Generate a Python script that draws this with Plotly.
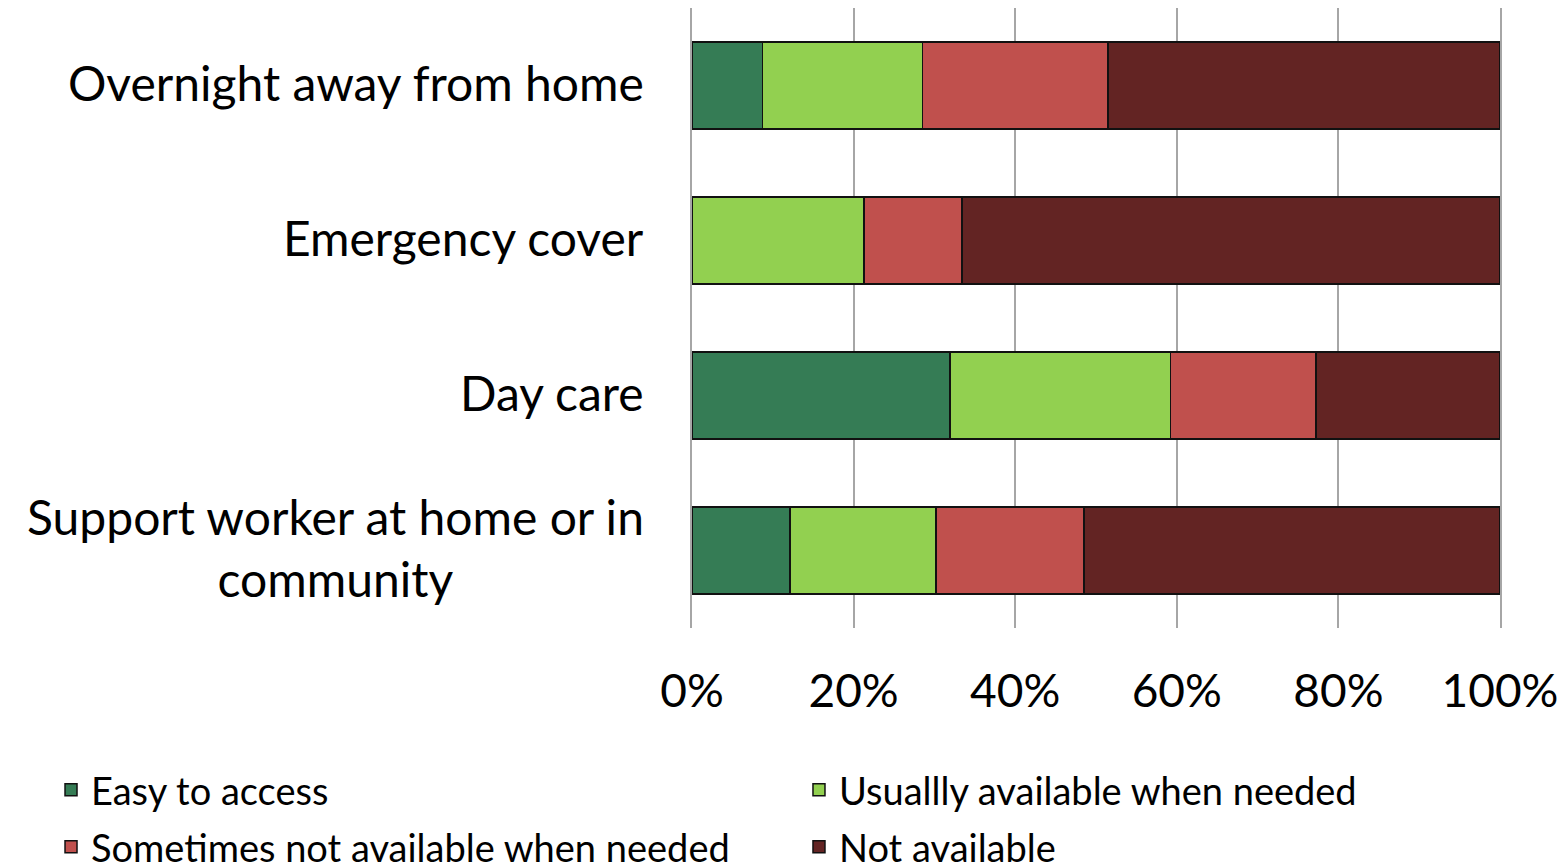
import plotly.graph_objects as go

categories = [
    "Overnight away from home",
    "Emergency cover",
    "Day care",
    "Support worker at home or in<br>community",
]
series_names = [
    "Easy to access",
    "Usuallly available when needed",
    "Sometimes not available when needed",
    "Not available",
]
easy = [8.7, 0.0, 31.9, 12.1]
usually = [19.8, 21.3, 27.3, 18.1]
sometimes = [23.0, 12.1, 18.0, 18.3]
not_available = [48.5, 66.6, 22.8, 51.5]
colors = ["#357C55", "#92D050", "#C0504D", "#632423"]

FONT = "Lato"
W, H = 1560, 855  # page body adds an 8px margin

# one legend per entry so the 2x2 grid can be placed like the original
legend_ids = ["legend", "legend2", "legend3", "legend4"]
legend_pos = [(-0.7933, -0.2613), (0.1324, -0.2613),
              (-0.7933, -0.3532), (0.1324, -0.3532)]

fig = go.Figure()
for name, vals, col, lg in zip(series_names, [easy, usually, sometimes, not_available],
                               colors, legend_ids):
    fig.add_trace(go.Bar(
        y=categories,
        x=vals,
        name=name,
        orientation="h",
        legend=lg,
        marker=dict(color=col, line=dict(color="#111111", width=1.5)),
    ))

# category labels as annotations so wrapped lines are centred
for cat in categories:
    fig.add_annotation(
        x=0, xref="paper", y=cat, yref="y",
        text=cat, showarrow=False,
        xanchor="right", xshift=-46, yshift=3, align="center",
        font=dict(family=FONT, size=48, color="black"),
    )

legends = {}
for lg, (lx, ly) in zip(legend_ids, legend_pos):
    legends[lg] = dict(
        orientation="h",
        xref="paper", yref="paper",
        x=lx, y=ly, xanchor="left", yanchor="middle",
        font=dict(family=FONT, size=38),
        bgcolor="rgba(0,0,0,0)",
    )

fig.update_layout(
    barmode="stack",
    bargap=0.44,
    width=W,
    height=H,
    margin=dict(l=684, r=68, t=0, b=235, autoexpand=False),
    plot_bgcolor="white",
    paper_bgcolor="white",
    font=dict(family=FONT, color="black"),
    xaxis=dict(
        range=[0, 100],
        tickvals=[0, 20, 40, 60, 80, 100],
        ticktext=["0%", "20%", "40%", "60%", "80%", "100%"],
        showgrid=True,
        gridcolor="#A6A6A6",
        gridwidth=1.5,
        zeroline=False,
        showline=False,
        ticks="",
        ticklabelstandoff=32,
        tickfont=dict(family=FONT, size=46),
    ),
    yaxis=dict(
        categoryorder="array",
        categoryarray=categories,
        autorange="reversed",
        showticklabels=False,
        showgrid=False,
        zeroline=False,
        showline=True,
        mirror=True,
        linecolor="#A6A6A6",
        linewidth=1.5,
    ),
    showlegend=True,
    **legends,
)

fig.write_html("out.html")
